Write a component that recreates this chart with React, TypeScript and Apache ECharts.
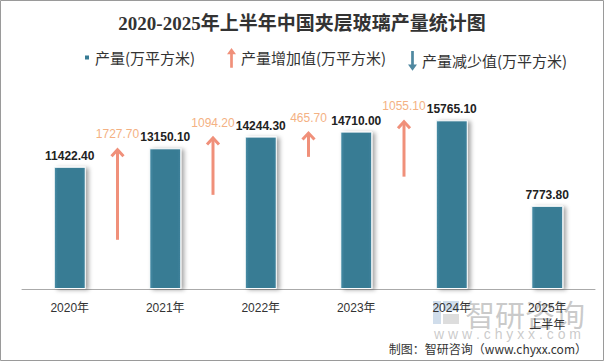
import React, { useEffect, useRef } from "react";
import * as echarts from "echarts";

const years = ["2020年", "2021年", "2022年", "2023年", "2024年", "2025年\n上半年"];
const production = [11422.4, 13150.1, 14244.3, 14710.0, 15765.1, 7773.8];
const increaseValues = [1727.7, 1094.2, 465.7, 1055.1];
const arrowSlots = [0, 1, 2, 3];
const arrowBase = [4600, 8800, 12350, 10500];
const arrowTip = [13150.1, 14244.3, 14710.0, 15765.1];

const upPath = "path://M5,0 L10,7 L6.5,7 L6.5,22 L3.5,22 L3.5,7 L0,7 Z";
const downPath = "path://M3.5,0 L6.5,0 L6.5,15 L10,15 L5,22 L0,15 L3.5,15 Z";

const ARROW_COLOR = "#f0907a";
const ARROW_LABEL = "#f4b183";

export default function App() {
  const ref = useRef<HTMLDivElement>(null);
  useEffect(() => {
    if (!ref.current) return;
    const chart = echarts.init(ref.current, undefined, { renderer: "svg" });
    const legendText = { fontSize: 15, color: "#333", fontFamily: "Noto Sans CJK SC" };
    const arrowData = arrowSlots.map((s, i) => [s, arrowBase[i], arrowTip[i], increaseValues[i]]);
    chart.setOption({
      animation: false,
      backgroundColor: "#fff",
      title: {
        text: "2020-2025年上半年中国夹层玻璃产量统计图",
        left: "center",
        top: 9,
        textStyle: { fontSize: 19, fontWeight: "bold", color: "#333", fontFamily: "Liberation Serif, Noto Sans CJK SC" },
      },
      legend: [
        { data: [{ name: "产量(万平方米)", icon: "rect" }], left: 83, top: 50, padding: 0, itemWidth: 6, itemHeight: 6, textStyle: legendText },
        { data: [{ name: "产量增加值(万平方米)", icon: upPath }], left: 227, top: 48, padding: 0, itemWidth: 9, itemHeight: 21, textStyle: legendText },
        { data: [{ name: "产量减少值(万平方米)", icon: downPath }], left: 408, top: 51, padding: 0, itemWidth: 9, itemHeight: 21, textStyle: legendText },
      ],
      grid: { left: 22, right: 9, top: 75, bottom: 72 },
      xAxis: {
        type: "category",
        data: years,
        axisLine: { lineStyle: { color: "#aaa" } },
        axisTick: { length: 5, lineStyle: { color: "#aaa" } },
        axisLabel: { color: "#333", fontSize: 12, margin: 10, interval: 0, lineHeight: 17, fontFamily: "Liberation Sans, Noto Sans CJK SC" },
      },
      yAxis: { type: "value", min: 0, max: 20000, show: false, splitLine: { show: false } },
      series: [
        {
          name: "产量(万平方米)",
          type: "bar",
          data: production,
          barWidth: 32,
          itemStyle: {
            color: new echarts.graphic.LinearGradient(0, 0, 1, 0, [
              { offset: 0, color: "#4a8ea7" },
              { offset: 0.12, color: "#377b94" },
              { offset: 0.88, color: "#377b94" },
              { offset: 1, color: "#3e829b" },
            ]),
            borderColor: "#fff",
            borderWidth: 1,
            shadowColor: "rgba(0,0,0,0.35)",
            shadowBlur: 4,
            shadowOffsetX: 3,
            shadowOffsetY: 1,
          },
          label: {
            show: true,
            position: "top",
            distance: 5,
            color: "#222",
            fontWeight: "bold",
            fontSize: 12,
            fontFamily: "Liberation Sans",
            formatter: (p: any) => Number(p.value).toFixed(2),
          },
        },
        {
          name: "产量增加值(万平方米)",
          type: "custom",
          itemStyle: { color: ARROW_COLOR },
          data: arrowData,
          renderItem: (params: any, api: any) => {
            const idx = api.value(0);
            const base = api.coord([idx, api.value(1)]);
            const tip = api.coord([idx, api.value(2)]);
            const band = api.size([1, 0])[0];
            const x = base[0] + band / 2;
            const ty = tip[1];
            const by = base[1];
            return {
              type: "group",
              children: [
                { type: "line", shape: { x1: x, y1: by, x2: x, y2: ty + 2 }, style: { stroke: ARROW_COLOR, lineWidth: 3 } },
                {
                  type: "polyline",
                  shape: { points: [[x - 6, ty + 8], [x, ty + 1.5], [x + 6, ty + 8]] },
                  style: { stroke: ARROW_COLOR, lineWidth: 3, fill: null },
                },
                {
                  type: "text",
                  x: x,
                  y: ty - 14,
                  style: {
                    text: Number(api.value(3)).toFixed(2),
                    fill: ARROW_LABEL,
                    fontSize: 12,
                    fontFamily: "Liberation Sans",
                    align: "center",
                    verticalAlign: "middle",
                  },
                },
              ],
            };
          },
        },
        {
          name: "产量减少值(万平方米)",
          type: "custom",
          itemStyle: { color: "#4f88a0" },
          data: [],
          renderItem: () => ({ type: "group", children: [] }),
        },
      ],
      graphic: [
        {
          type: "rect",
          z: -10,
          silent: true,
          shape: { x: 0.5, y: 0.5, width: 603, height: 360 },
          style: { fill: "none", stroke: "#9a9a9a", lineWidth: 1 },
        },
        {
          type: "group",
          silent: true,
          z: 100,
          children: [
            { type: "rect", shape: { x: 433, y: 301, width: 8, height: 23 }, style: { fill: "rgba(150,180,210,0.45)" } },
            { type: "rect", shape: { x: 443, y: 301, width: 16, height: 10 }, style: { fill: "rgba(150,180,210,0.45)" } },
            { type: "rect", shape: { x: 443, y: 314, width: 16, height: 10 }, style: { fill: "rgba(170,170,170,0.4)" } },
            {
              type: "text",
              x: 465,
              y: 313,
              style: { text: "智研咨询", fill: "rgba(150,150,150,0.5)", fontSize: 30, fontFamily: "Noto Sans CJK SC", verticalAlign: "middle" },
            },
            {
              type: "text",
              x: 434,
              y: 334,
              style: { text: "w w w . c h y x x . c o m", fill: "rgba(150,150,150,0.5)", fontSize: 14, fontFamily: "Liberation Sans", verticalAlign: "middle" },
            },
          ],
        },
        {
          type: "text",
          right: 17,
          top: 342,
          style: { text: "制图：智研咨询（www.chyxx.com）", fill: "#333", fontSize: 12, fontFamily: "Noto Sans CJK SC, Liberation Mono" },
        },
      ],
    });
    return () => chart.dispose();
  }, []);
  return <div ref={ref} style={{ position: "absolute", left: 0, top: 0, width: 604, height: 361 }} />;
}
